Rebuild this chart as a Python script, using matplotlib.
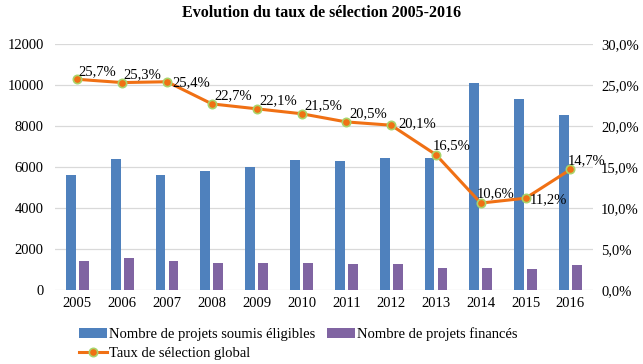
import numpy as np
import matplotlib.pyplot as plt
from matplotlib.ticker import FuncFormatter

plt.rcParams['font.family'] = ['Liberation Serif', 'DejaVu Serif']

years = ["2005", "2006", "2007", "2008", "2009", "2010",
         "2011", "2012", "2013", "2014", "2015", "2016"]
soumis = [5600, 6400, 5600, 5830, 6020, 6350, 6300, 6450, 6450, 10080, 9300, 8550]
finances = [1415, 1560, 1400, 1300, 1300, 1330, 1270, 1270, 1050, 1050, 1020, 1230]
taux = [25.7, 25.3, 25.4, 22.7, 22.1, 21.5, 20.5, 20.1, 16.5, 10.6, 11.2, 14.7]

# label offsets (points) + vertical alignment for the rate annotations
offsets = [(1, 1, "bottom"), (1, 1, "bottom"), (4, -1, "center"), (2, 1, "bottom"),
           (2, 1, "bottom"), (2, 1, "bottom"), (2, 1, "bottom"), (5, 1, "center"),
           (-2, 2, "bottom"), (-3, 2, "bottom"), (3, -1, "center"), (-2, 2, "bottom")]

fig = plt.figure(figsize=(6.43, 3.64), dpi=100)
ax = fig.add_axes([0.0855, 0.2033, 0.8365, 0.6757])
ax2 = ax.twinx()

x = np.arange(len(years))
w = 0.22
b1 = ax.bar(x - 0.145, soumis, w, color="#4F81BD", zorder=2,
            label="Nombre de projets soumis éligibles")
b2 = ax.bar(x + 0.145, finances, w, color="#8064A2", zorder=2,
            label="Nombre de projets financés")

ax.set_ylim(0, 12000)
ax.set_yticks(range(0, 12001, 2000))
ax.set_xlim(-0.5, 11.5)
ax.set_xticks(x)
ax.set_xticklabels(years)
ax.grid(axis="y", color="#D9D9D9", lw=0.9, zorder=0)
for s in ax.spines.values():
    s.set_visible(False)
for s in ax2.spines.values():
    s.set_visible(False)
ax.tick_params(length=0, labelsize=10.5, pad=8)
ax.tick_params(axis="x", pad=5)

ln, = ax2.plot(x, taux, color="#F07014", lw=2.2, marker="o", ms=6,
               markerfacecolor="#F07014", markeredgecolor="#A9D46A",
               markeredgewidth=1.2, label="Taux de sélection global", zorder=3)
ax2.set_ylim(0, 30)
ax2.set_yticks(range(0, 31, 5))
ax2.yaxis.set_major_formatter(FuncFormatter(lambda v, p: ("%.1f%%" % v).replace(".", ",")))
ax2.tick_params(length=0, labelsize=10.5, pad=6)

for xi, t, (dx, dy, va) in zip(x, taux, offsets):
    ax2.annotate(("%.1f%%" % t).replace(".", ","), (xi, t), xytext=(dx, dy),
                 textcoords="offset points", ha="left", va=va, fontsize=10.5)

fig.suptitle("Evolution du taux de sélection 2005-2016", fontsize=11.5,
             fontweight="bold", y=0.985)

fig.legend([b1, ln, b2], [b1.get_label(), ln.get_label(), b2.get_label()],
           ncol=2, loc="upper left", bbox_to_anchor=(0.112, 0.12), frameon=False,
           fontsize=10.5, handlelength=1.9, handletextpad=0.15, columnspacing=0.8,
           labelspacing=0.35, borderpad=0)

fig.savefig("out.png", dpi=100)
